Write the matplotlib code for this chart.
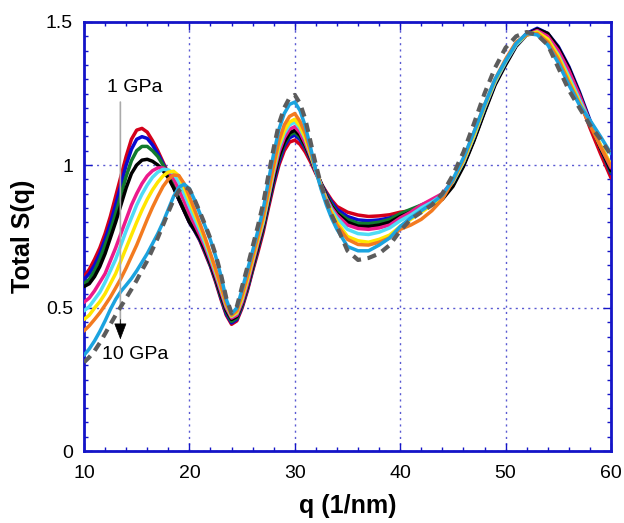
import matplotlib
matplotlib.use("Agg")
import matplotlib.pyplot as plt
from matplotlib.ticker import MultipleLocator, FuncFormatter

plt.rcParams['font.family'] = ['Liberation Sans', 'DejaVu Sans']

# q grid: half steps from 10 to 34, then unit steps from 35 to 60
q = [10 + 0.5 * i for i in range(49)] + list(range(35, 61))

s_red = [0.61, 0.635, 0.67, 0.71, 0.76, 0.82, 0.89, 0.96, 1.03, 1.09,
         1.122, 1.128, 1.115, 1.085, 1.05, 1.01, 0.97, 0.925, 0.88, 0.84,
         0.80, 0.77, 0.735, 0.69, 0.645, 0.59, 0.53, 0.475, 0.443, 0.455,
         0.50, 0.56, 0.63, 0.695, 0.765, 0.85, 0.93, 1.0, 1.05, 1.08,
         1.087, 1.072, 1.045, 1.01, 0.97, 0.935, 0.905, 0.877, 0.855,
         0.835, 0.825, 0.82, 0.822, 0.826, 0.835, 0.84, 0.85, 0.86, 0.885,
         0.93, 1.0, 1.09, 1.19, 1.285, 1.355, 1.42, 1.46, 1.475, 1.455,
         1.40, 1.32, 1.23, 1.13, 1.04, 0.955]
s_blue = [0.60, 0.62, 0.65, 0.69, 0.74, 0.795, 0.86, 0.93, 1.0, 1.055,
          1.09, 1.099, 1.093, 1.07, 1.04, 1.005, 0.965, 0.923, 0.88, 0.84,
          0.80, 0.77, 0.737, 0.695, 0.648, 0.595, 0.535, 0.48, 0.448, 0.46,
          0.505, 0.565, 0.635, 0.705, 0.775, 0.86, 0.94, 1.01, 1.065, 1.095,
          1.105, 1.088, 1.058, 1.02, 0.975, 0.935, 0.90, 0.87, 0.845,
          0.82, 0.808, 0.805, 0.808, 0.815, 0.825, 0.835, 0.85, 0.865, 0.89,
          0.935, 1.0, 1.09, 1.19, 1.285, 1.355, 1.42, 1.46, 1.478, 1.46,
          1.414, 1.344, 1.256, 1.157, 1.06, 0.97]
s_green = [0.585, 0.60, 0.63, 0.67, 0.72, 0.77, 0.83, 0.895, 0.96, 1.015,
           1.05, 1.065, 1.065, 1.05, 1.03, 1.0, 0.965, 0.927, 0.885, 0.845,
           0.805, 0.775, 0.742, 0.70, 0.652, 0.60, 0.54, 0.487, 0.453, 0.465,
           0.51, 0.57, 0.64, 0.71, 0.78, 0.865, 0.95, 1.02, 1.075, 1.105,
           1.115, 1.097, 1.063, 1.022, 0.978, 0.935, 0.895, 0.862, 0.835,
           0.81, 0.796, 0.795, 0.80, 0.81, 0.83, 0.845, 0.86, 0.875, 0.895,
           0.935, 1.0, 1.09, 1.19, 1.285, 1.355, 1.42, 1.455, 1.47, 1.455,
           1.405, 1.335, 1.25, 1.15, 1.06, 0.975]
s_black = [0.575, 0.585, 0.61, 0.645, 0.69, 0.745, 0.80, 0.86, 0.92, 0.97,
           1.0, 1.017, 1.02, 1.013, 1.0, 0.98, 0.955, 0.92, 0.88, 0.84,
           0.80, 0.772, 0.742, 0.702, 0.655, 0.603, 0.545, 0.492, 0.46, 0.47,
           0.515, 0.575, 0.645, 0.715, 0.785, 0.87, 0.955, 1.03, 1.08, 1.112,
           1.122, 1.103, 1.068, 1.025, 0.98, 0.935, 0.89, 0.855, 0.83,
           0.80, 0.786, 0.785, 0.79, 0.80, 0.82, 0.835, 0.85, 0.86, 0.88,
           0.925, 0.995, 1.085, 1.185, 1.28, 1.35, 1.415, 1.455, 1.475, 1.46,
           1.41, 1.34, 1.25, 1.15, 1.06, 0.98]
s_magenta = [0.52, 0.535, 0.56, 0.59, 0.62, 0.665, 0.71, 0.76, 0.81, 0.86,
             0.90, 0.935, 0.962, 0.98, 0.99, 0.99, 0.978, 0.952, 0.915, 0.873,
             0.83, 0.792, 0.755, 0.713, 0.665, 0.612, 0.555, 0.50, 0.465, 0.475,
             0.52, 0.582, 0.655, 0.725, 0.795, 0.882, 0.97, 1.045, 1.095, 1.125,
             1.134, 1.113, 1.075, 1.03, 0.98, 0.932, 0.885, 0.85, 0.825,
             0.79, 0.778, 0.775, 0.78, 0.79, 0.815, 0.835, 0.86, 0.88, 0.90,
             0.945, 1.01, 1.10, 1.20, 1.29, 1.36, 1.42, 1.455, 1.47, 1.45,
             1.40, 1.33, 1.245, 1.15, 1.065, 0.99]
s_cyan = [0.49, 0.505, 0.53, 0.555, 0.59, 0.63, 0.67, 0.72, 0.77, 0.815,
          0.86, 0.898, 0.93, 0.957, 0.975, 0.985, 0.983, 0.97, 0.94, 0.90,
          0.855, 0.812, 0.77, 0.725, 0.675, 0.622, 0.565, 0.508, 0.47, 0.482,
          0.53, 0.595, 0.665, 0.735, 0.80, 0.89, 0.98, 1.06, 1.11, 1.14,
          1.15, 1.127, 1.09, 1.035, 0.98, 0.928, 0.88, 0.843, 0.815,
          0.775, 0.76, 0.757, 0.765, 0.78, 0.805, 0.825, 0.85, 0.87, 0.895,
          0.94, 1.01, 1.10, 1.20, 1.29, 1.36, 1.42, 1.455, 1.465, 1.44,
          1.385, 1.31, 1.23, 1.15, 1.07, 1.0]
s_yellow = [0.46, 0.475, 0.50, 0.522, 0.55, 0.585, 0.62, 0.665, 0.71, 0.755,
            0.80, 0.842, 0.88, 0.913, 0.94, 0.962, 0.975, 0.978, 0.962, 0.922,
            0.875, 0.83, 0.785, 0.737, 0.685, 0.63, 0.572, 0.512, 0.472, 0.485,
            0.535, 0.60, 0.67, 0.74, 0.81, 0.90, 0.99, 1.07, 1.12, 1.15,
            1.16, 1.135, 1.095, 1.04, 0.98, 0.925, 0.875, 0.835, 0.80,
            0.75, 0.735, 0.73, 0.74, 0.755, 0.785, 0.81, 0.835, 0.86, 0.89,
            0.945, 1.015, 1.105, 1.205, 1.295, 1.365, 1.425, 1.455, 1.465, 1.44,
            1.38, 1.30, 1.22, 1.145, 1.07, 1.0]
s_orange = [0.42, 0.438, 0.46, 0.483, 0.51, 0.538, 0.57, 0.603, 0.64, 0.68,
            0.72, 0.765, 0.81, 0.852, 0.89, 0.925, 0.95, 0.965, 0.963, 0.935,
            0.89, 0.843, 0.795, 0.745, 0.69, 0.635, 0.577, 0.515, 0.475, 0.49,
            0.545, 0.61, 0.68, 0.75, 0.82, 0.91, 1.0, 1.085, 1.14, 1.17,
            1.18, 1.152, 1.11, 1.048, 0.98, 0.92, 0.87, 0.825, 0.79,
            0.74, 0.722, 0.72, 0.73, 0.745, 0.775, 0.79, 0.81, 0.84, 0.88,
            0.945, 1.02, 1.115, 1.21, 1.30, 1.37, 1.43, 1.455, 1.46, 1.43,
            1.37, 1.29, 1.215, 1.14, 1.065, 0.995]
s_skyblue = [0.335, 0.357, 0.385, 0.418, 0.455, 0.495, 0.53, 0.558, 0.58, 0.603,
             0.63, 0.66, 0.69, 0.725, 0.76, 0.80, 0.845, 0.89, 0.922, 0.933,
             0.917, 0.877, 0.83, 0.785, 0.737, 0.68, 0.612, 0.53, 0.48, 0.50,
             0.565, 0.632, 0.70, 0.77, 0.845, 0.945, 1.04, 1.125, 1.18, 1.212,
             1.22, 1.19, 1.135, 1.06, 0.98, 0.915, 0.86, 0.813, 0.775,
             0.715, 0.70, 0.70, 0.72, 0.745, 0.785, 0.815, 0.84, 0.865, 0.895,
             0.95, 1.025, 1.115, 1.21, 1.30, 1.365, 1.425, 1.46, 1.455, 1.42,
             1.357, 1.28, 1.21, 1.157, 1.10, 1.04]
s_dashed = [0.31, 0.328, 0.35, 0.378, 0.41, 0.443, 0.475, 0.505, 0.535, 0.565,
            0.597, 0.632, 0.665, 0.705, 0.745, 0.79, 0.835, 0.878, 0.91, 0.925,
            0.915, 0.878, 0.835, 0.79, 0.742, 0.685, 0.617, 0.535, 0.482, 0.505,
            0.575, 0.643, 0.715, 0.787, 0.865, 0.965, 1.06, 1.145, 1.20, 1.235,
            1.245, 1.215, 1.16, 1.08, 1.0, 0.93, 0.875, 0.825, 0.785,
            0.70, 0.668, 0.675, 0.69, 0.72, 0.77, 0.81, 0.835, 0.86, 0.90,
            0.965, 1.045, 1.145, 1.25, 1.34, 1.41, 1.45, 1.465, 1.455, 1.42,
            1.34, 1.262, 1.20, 1.14, 1.09, 1.035]

series = [
    (s_red, '#d4001a'),
    (s_blue, '#0a0ad0'),
    (s_green, '#117a2e'),
    (s_black, '#000000'),
    (s_magenta, '#ec1a8c'),
    (s_cyan, '#4fdcf5'),
    (s_yellow, '#ffe600'),
    (s_orange, '#f37a1f'),
    (s_skyblue, '#1ba3df'),
]

frame = '#1414c8'
gridc = '#5a5ad2'

fig = plt.figure(figsize=(6.24, 5.23), dpi=100)
ax = fig.add_axes([84/624, 1-451/523, (611-84)/624, (451-22)/523])

for ys, c in series:
    ax.plot(q, ys, color=c, lw=2.5, solid_capstyle='round', solid_joinstyle='round', zorder=3)
ax.plot(q, s_dashed, color='#5c5c5c', lw=3.0, ls=(0, (2.2, 1.6)), zorder=4)

ax.set_xlim(10, 60)
ax.set_ylim(0, 1.5)
ax.xaxis.set_major_locator(MultipleLocator(10))
ax.xaxis.set_minor_locator(MultipleLocator(2))
ax.yaxis.set_major_locator(MultipleLocator(0.5))
ax.yaxis.set_minor_locator(MultipleLocator(0.05))
ax.yaxis.set_major_formatter(FuncFormatter(lambda v, p: f'{v:g}'))

ax.grid(True, which='major', color=gridc, ls=(0, (1.5, 3)), lw=1.0)
for s in ax.spines.values():
    s.set_color(frame)
    s.set_linewidth(2.0)
ax.tick_params(which='both', direction='in', top=True, right=True, color=frame, width=1.0)
ax.tick_params(which='major', length=6, labelsize=14)
ax.tick_params(axis='x', which='major', pad=10)
ax.tick_params(axis='y', which='major', pad=8)
ax.tick_params(which='minor', length=3)

ax.set_xlabel('q (1/nm)', fontsize=18, fontweight='bold', labelpad=9)
ax.set_ylabel('Total S(q)', fontsize=18, fontweight='bold', labelpad=8)

# pressure annotation
ax.annotate('', xy=(13.45, 0.43), xytext=(13.45, 1.22),
            arrowprops=dict(arrowstyle='-', color='#aaaaaa', lw=1.2,
                            shrinkA=0, shrinkB=0))
ax.annotate('', xy=(13.45, 0.39), xytext=(13.45, 0.46),
            arrowprops=dict(arrowstyle='-|>,head_length=1.05,head_width=0.4',
                            color='black', lw=0.5, shrinkA=0, shrinkB=0))
ax.text(14.85, 1.272, '1 GPa', fontsize=14, ha='center', va='center')
ax.text(14.9, 0.336, '10 GPa', fontsize=14, ha='center', va='center')

fig.savefig('out.png', dpi=100)
